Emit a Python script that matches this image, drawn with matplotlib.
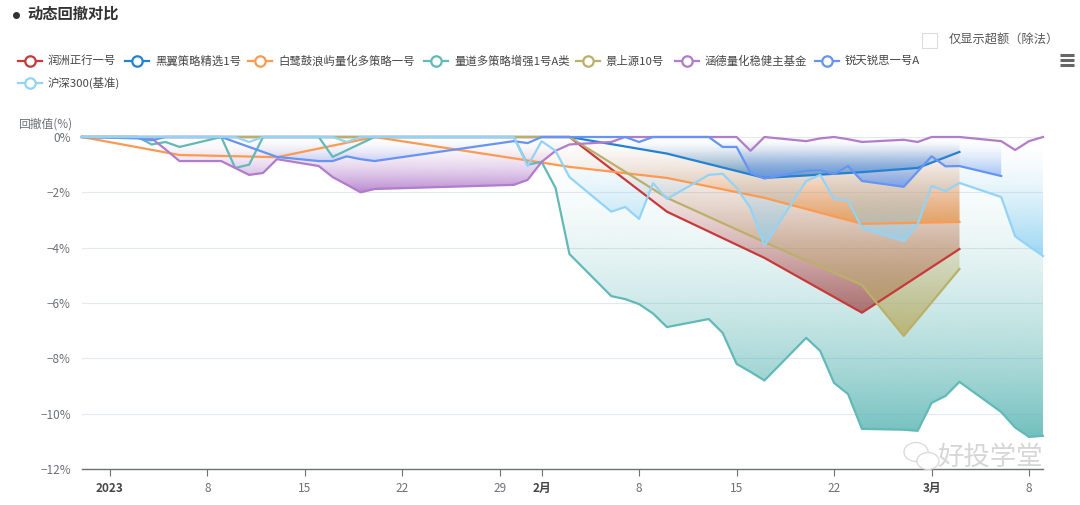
import numpy as np
import pandas as pd
import matplotlib
matplotlib.use('Agg')
import matplotlib.pyplot as plt
import matplotlib.dates as mdates
import matplotlib.colors as mcolors
from matplotlib.path import Path
from matplotlib.patches import Rectangle, Ellipse

plt.rcParams['font.family'] = ['Noto Sans CJK SC', 'DejaVu Sans']

# trading days shown on the chart
days = pd.to_datetime([
    '2022-12-30', '2023-01-03', '2023-01-04', '2023-01-05', '2023-01-06',
    '2023-01-09', '2023-01-10', '2023-01-11', '2023-01-12', '2023-01-13',
    '2023-01-16', '2023-01-17', '2023-01-18', '2023-01-19', '2023-01-20',
    '2023-01-30', '2023-01-31', '2023-02-01', '2023-02-02', '2023-02-03',
    '2023-02-06', '2023-02-07', '2023-02-08', '2023-02-09', '2023-02-10',
    '2023-02-13', '2023-02-14', '2023-02-15', '2023-02-16', '2023-02-17',
    '2023-02-20', '2023-02-21', '2023-02-22', '2023-02-23', '2023-02-24',
    '2023-02-27', '2023-02-28', '2023-03-01', '2023-03-02', '2023-03-03',
    '2023-03-06', '2023-03-07', '2023-03-08', '2023-03-09'])

weeks = pd.to_datetime(['2022-12-30', '2023-01-06', '2023-01-13', '2023-01-20', '2023-02-03',
                        '2023-02-10', '2023-02-17', '2023-02-24', '2023-03-03'])

# 润洲正行一号 (weekly)
runzhou_dates = weeks
runzhou = [0, 0, 0, 0, 0, -2.70, -4.37, -6.35, -4.05]

# 黑翼策略精选1号
heiyi_dates = pd.to_datetime(['2022-12-30', '2023-01-06', '2023-01-13', '2023-01-20', '2023-02-03',
                              '2023-02-10', '2023-02-17', '2023-02-24', '2023-02-28', '2023-03-03'])
heiyi = [0, 0, 0, 0, 0, -0.60, -1.48, -1.27, -1.12, -0.54]

# 白鹭鼓浪屿量化多策略一号 (weekly)
bailu_dates = weeks
bailu = [0, -0.65, -0.73, 0, -1.08, -1.48, -2.20, -3.14, -3.07]

# 量道多策略增强1号A类 (daily)
liangdao = [0, 0, -0.27, -0.18, -0.36, 0, -1.12, -1.00, 0, 0,
            0, -0.72, -0.48, -0.24, 0, 0, -1.00, -0.90, -1.84, -4.23,
            -5.75, -5.86, -6.04, -6.38, -6.87, -6.58, -7.08, -8.20, -8.49, -8.80,
            -7.26, -7.73, -8.89, -9.29, -10.55, -10.58, -10.62, -9.61, -9.36, -8.85,
            -9.94, -10.50, -10.84, -10.80]

# 景上源10号
jingshang_dates = pd.to_datetime(['2022-12-30', '2023-01-06', '2023-01-13', '2023-01-20', '2023-02-03',
                                  '2023-02-10', '2023-02-17', '2023-02-24', '2023-02-27', '2023-03-03'])
jingshang = [0, 0, 0, 0, 0, -2.20, -3.80, -5.35, -7.19, -4.77]

# 涵德量化稳健主基金 (daily)
hande = [0, 0, -0.05, -0.45, -0.87, -0.87, -1.12, -1.37, -1.30, -0.80,
         -1.05, -1.45, -1.72, -2.00, -1.88, -1.73, -1.55, -0.90, -0.50, -0.27,
         -0.18, 0, 0, 0, 0, 0, 0, 0, -0.50, 0,
         -0.15, -0.05, 0, -0.08, -0.18, -0.10, -0.18, 0, 0, 0,
         -0.15, -0.47, -0.15, 0]

# 锐天锐思一号A (daily, ends 3/6)
ruitian = [0, -0.05, -0.12, 0, 0, 0, -0.18, -0.36, -0.54, -0.72,
           -0.87, -0.87, -0.70, -0.80, -0.87, -0.15, -0.22, 0, 0, 0,
           0, 0, -0.18, 0, 0, 0, -0.36, -0.36, -1.30, -1.50,
           -1.22, -1.20, -1.34, -1.05, -1.59, -1.80, -1.25, -0.70, -1.06, -1.05,
           -1.41]

# 沪深300(基准) (daily)
hs300 = [0, 0, 0, 0, 0, 0, 0, -0.18, 0, 0,
         0, 0, -0.18, 0, 0, 0, -1.05, -0.15, -0.50, -1.45,
         -2.70, -2.53, -2.96, -1.67, -2.24, -1.37, -1.33, -1.84, -2.57, -3.92,
         -1.59, -1.37, -2.24, -2.30, -3.29, -3.76, -3.15, -1.77, -1.96, -1.66,
         -2.17, -3.59, -3.95, -4.30]

names = ['润洲正行一号', '黑翼策略精选1号', '白鹭鼓浪屿量化多策略一号', '量道多策略增强1号A类',
         '景上源10号', '涵德量化稳健主基金', '锐天锐思一号A', '沪深300(基准)']
colors = ['#c8393a', '#2382d4', '#fd9a52', '#62b9b7', '#bbb06a', '#b27ccb', '#6594f3', '#93d4f6']
series = [(runzhou_dates, runzhou), (heiyi_dates, heiyi), (bailu_dates, bailu), (days, liangdao),
          (jingshang_dates, jingshang), (days, hande), (days[:len(ruitian)], ruitian), (days, hs300)]

fig = plt.figure(figsize=(10.8, 5.05), dpi=100)
ax = fig.add_axes([82 / 1080, 1 - 469 / 505, (1043 - 82) / 1080, (469 - 137) / 505])


def gradient_area(ax, x, y, color, z):
    xn = mdates.date2num(x)
    y = np.asarray(y, dtype=float)
    poly = ax.fill_between(xn, y, 0, facecolor='none', edgecolor='none', zorder=z)
    clip = Path.make_compound_path(*poly.get_paths())
    grad = np.zeros((256, 1, 4))
    grad[:, 0, :3] = mcolors.to_rgb(color)
    grad[:, 0, 3] = 0.9 * np.linspace(0.0, 1.0, 256) ** 1.8
    im = ax.imshow(grad, aspect='auto', extent=[xn[0], xn[-1], y.min(), 0],
                   origin='upper', zorder=z, interpolation='bilinear')
    im.set_clip_path(clip, ax.transData)


# areas first, lines on top
for i, ((x, y), c) in enumerate(zip(series, colors)):
    gradient_area(ax, x, y, c, 2 + i * 0.1)
for i, ((x, y), c) in enumerate(zip(series, colors)):
    ax.plot(mdates.date2num(x), y, color=c, lw=1.6, zorder=4 + i * 0.1, clip_on=False,
            solid_joinstyle='round')

ax.set_xlim(mdates.date2num(pd.Timestamp('2022-12-30')), mdates.date2num(pd.Timestamp('2023-03-09')))
ax.set_ylim(-12, 0)

yticks = [0, -2, -4, -6, -8, -10, -12]
ax.set_yticks(yticks)
ax.set_yticklabels(['0%' if v == 0 else '\u2212%d%%' % -v for v in yticks])
ax.grid(axis='y', color='#e4e8f1', lw=0.8, zorder=0)
ax.tick_params(axis='y', length=0, labelsize=8.5, labelcolor='#6e7079', pad=8)

xtick_dates = pd.to_datetime(['2023-01-01', '2023-01-08', '2023-01-15', '2023-01-22', '2023-01-29',
                              '2023-02-01', '2023-02-08', '2023-02-15', '2023-02-22', '2023-03-01',
                              '2023-03-08'])
xtick_labels = ['2023', '8', '15', '22', '29', '2月', '8', '15', '22', '3月', '8']
ax.set_xticks(mdates.date2num(xtick_dates))
ax.set_xticklabels(xtick_labels)
ax.tick_params(axis='x', length=5, color='#6e7079', labelsize=8.5, labelcolor='#6e7079', pad=4)
for lab in ax.get_xticklabels():
    if lab.get_text() in ('2023', '2月', '3月'):
        lab.set_fontweight('bold')
        lab.set_color('#464646')

for s in ['top', 'right', 'left']:
    ax.spines[s].set_visible(False)
ax.spines['bottom'].set_color('#6e7079')
ax.spines['bottom'].set_linewidth(1)
ax.set_facecolor('none')

# overlay in pixel coordinates for title, legend, widgets
ov = fig.add_axes([0, 0, 1, 1], zorder=10)
ov.set_xlim(0, 1080)
ov.set_ylim(505, 0)
ov.axis('off')

ov.plot([16], [15], marker='o', ms=4, color='#333333')
ov.text(27, 14, '动态回撤对比', fontsize=11, fontweight='bold', color='#333333', va='center', ha='left')

ov.add_patch(Rectangle((922, 33), 15, 15, facecolor='white', edgecolor='#dcdcdc', lw=0.8))
ov.text(949, 40, '仅显示超额（除法）', fontsize=8.8, color='#555555', va='center', ha='left')

for yy in (55, 60, 65):
    ov.plot([1060, 1074], [yy, yy], color='#666666', lw=2.2, solid_capstyle='butt')

# legend
leg_pos = [(30, 61), (137, 61), (260, 61), (436, 61), (588, 61), (687, 61), (827, 61), (30, 83)]
for (cx, cy), name, c in zip(leg_pos, names, colors):
    ov.plot([cx - 12, cx + 12], [cy, cy], color=c, lw=1.6)
    ov.plot([cx], [cy], marker='o', ms=7.5, mfc='white', mec=c, mew=1.6)
    ov.text(cx + 18, cy, name, fontsize=8.2, color='#464646', va='center', ha='left')

ov.text(18, 124, '回撤值(%)', fontsize=8.5, color='#6e7079', va='center', ha='left')

# watermark
ov.add_patch(Ellipse((916, 452), 24, 19, facecolor='white', edgecolor='#d8d8d8', lw=1.0, alpha=0.9))
ov.add_patch(Ellipse((928, 461), 22, 17, facecolor='white', edgecolor='#d8d8d8', lw=1.0, alpha=0.9))
ov.text(937, 457, '好投学堂', fontsize=19, color='#d2d2d2', va='center', ha='left', alpha=0.9)

fig.savefig('out.png', dpi=100)
